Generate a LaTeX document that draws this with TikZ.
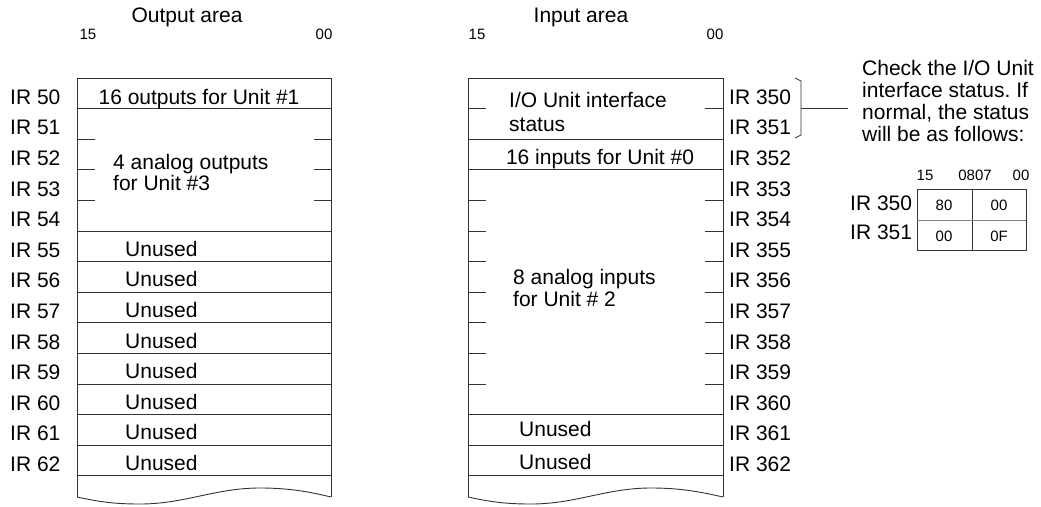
\documentclass[tikz,border=0pt]{standalone}
\usepackage{fontspec}
\setmainfont{Liberation Sans}
\frenchspacing
\begin{document}
\begin{tikzpicture}[x=1pt,y=-1pt,
  ln/.style={draw=black!80, line width=0.9pt},
  big/.style={font=\fontsize{21}{22}\selectfont, inner sep=0pt},
  small/.style={font=\fontsize{15}{16}\selectfont, inner sep=0pt}]
\useasboundingbox (0,0) rectangle (1041,506);
\def\rh{30.6}
% ---------- Output area ----------
\node[big,anchor=base] (outtitle) at (187,22) {Output area};
\node[small,anchor=base] (o15) at (88,39) {15};
\node[small,anchor=base] (o00) at (324,39) {00};
\draw[ln] (77,497) -- (77,78) -- (331,78) -- (331,497);
\draw[ln] (77,497) .. controls (100,502) and (115,504) .. (140,504) .. controls (185,504) and (215,488) .. (260,488) .. controls (290,488) and (310,492) .. (331,497);
\foreach \k in {1,5,6,...,13} \draw[ln] (77,{78+\rh*\k}) -- (331,{78+\rh*\k});
\foreach \k in {2,3,4} {
  \draw[ln] (77,{78+\rh*\k}) -- (95,{78+\rh*\k});
  \draw[ln] (314,{78+\rh*\k}) -- (331,{78+\rh*\k});
}
\foreach \k [evaluate=\k as \n using int(50+\k)] in {0,...,12}
  \node[big,anchor=base west] (oir\n) at (10,{78+\rh*\k+15.3+11}) {IR \n};
\node[big,anchor=base] (out1) at (199,104) {16 outputs for Unit \#1};
\node[big,anchor=base west,align=left,font=\fontsize{21}{21}\selectfont] (out3) at (113,190) {4 analog outputs\\for Unit \#3};
\foreach \k in {5,...,12}
  \node[big,anchor=base west] (ounused\k) at (125,{78+\rh*\k+15.3+10}) {Unused};
% ---------- Input area ----------
\node[big,anchor=base] (intitle) at (581,22) {Input area};
\node[small,anchor=base] (i15) at (477,39) {15};
\node[small,anchor=base] (i00) at (715,39) {00};
\draw[ln] (468,497) -- (468,78) -- (723,78) -- (723,497);
\draw[ln] (468,497) .. controls (491,502) and (506,504) .. (531,504) .. controls (576,504) and (606,488) .. (651,488) .. controls (681,488) and (701,492) .. (723,497);
\foreach \k in {2,3,11,12,13} \draw[ln] (468,{78+\rh*\k}) -- (723,{78+\rh*\k});
\foreach \k in {1,4,5,...,10} {
  \draw[ln] (468,{78+\rh*\k}) -- (486,{78+\rh*\k});
  \draw[ln] (705,{78+\rh*\k}) -- (723,{78+\rh*\k});
}
\foreach \k [evaluate=\k as \n using int(350+\k)] in {0,...,12}
  \node[big,anchor=base west] (iir\n) at (729,{78+\rh*\k+15.3+11}) {IR \n};
\node[big,anchor=base west,align=left,font=\fontsize{21}{24}\selectfont] (ioif) at (509,131) {I/O Unit interface\\status};
\node[big,anchor=base] (in0) at (600,164) {16 inputs for Unit \#0};
\node[big,anchor=base west,align=left,font=\fontsize{21}{22}\selectfont] (in2) at (513,306) {8 analog inputs\\for Unit \# 2};
\node[big,anchor=base west] (iunused1) at (519,436) {Unused};
\node[big,anchor=base west] (iunused2) at (519,469) {Unused};
% ---------- bracket and note ----------
\draw[ln,line width=0.7pt] (795,78) -- (801,81) -- (801,135) -- (795,138);
\coordinate (brk) at (801,108);
\coordinate (brkend) at (848,108);
\draw[ln] (brk) -- (brkend);
\node[big,anchor=base west,align=left,font=\fontsize{21}{22}\selectfont] (note) at (862,141)
  {Check the I/O Unit\\interface status. If\\normal, the status\\will be as follows:};
% ---------- status table ----------
\node[small,anchor=base] (t15) at (925,180) {15};
\node[small,anchor=base] (t0807) at (975,180) {0807};
\node[small,anchor=base] (t00) at (1021,180) {00};
\draw[ln] (917,189) rectangle (1026,250);
\draw[ln] (972,189) -- (972,250);
\draw[ln,draw=black!50] (917,220) -- (1026,220);
\node[big,anchor=base west] (tir350) at (850,210) {IR 350};
\node[big,anchor=base west] (tir351) at (850,239) {IR 351};
\node[small,anchor=base] (v80) at (944,210) {80};
\node[small,anchor=base] (v00a) at (999,210) {00};
\node[small,anchor=base] (v00b) at (944,241) {00};
\node[small,anchor=base] (v0F) at (999,241) {0F};
\end{tikzpicture}
\end{document}
